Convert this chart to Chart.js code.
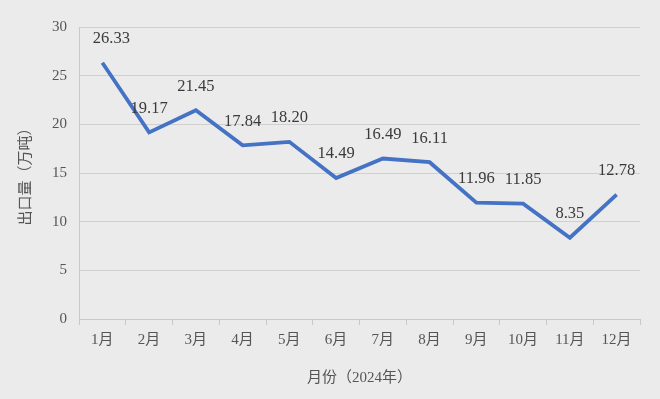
<!DOCTYPE html>
<html>
<head>
<meta charset="utf-8">
<script src="https://cdn.jsdelivr.net/npm/chart.js@4/dist/chart.umd.min.js"></script>
<style>
  html, body { margin: 0; padding: 0; background: #ebebeb; }
  #wrap { width: 660px; height: 399px; position: relative; }
</style>
</head>
<body>
<div id="wrap"><canvas id="exportChart"></canvas></div>
<script>
const months = ['1月', '2月', '3月', '4月', '5月', '6月', '7月', '8月', '9月', '10月', '11月', '12月'];
const exportVolume = [26.33, 19.17, 21.45, 17.84, 18.20, 14.49, 16.49, 16.11, 11.96, 11.85, 8.35, 12.78];
const yTicks = [0, 5, 10, 15, 20, 25, 30];

const serif = '"Liberation Serif", "Noto Sans CJK SC", serif';
const textColor = '#555555';

// draws the value above each point
const valueLabels = {
  id: 'valueLabels',
  afterDatasetsDraw(chart) {
    const ctx = chart.ctx;
    const meta = chart.getDatasetMeta(0);
    ctx.save();
    ctx.font = '16.5px ' + serif;
    ctx.fillStyle = '#3a3a3a';
    ctx.textAlign = 'center';
    ctx.textBaseline = 'middle';
    meta.data.forEach((pt, i) => {
      let dx = i === 0 ? 9 : 0; // first label sits a bit to the right
      ctx.fillText(exportVolume[i].toFixed(2), pt.x + dx, pt.y - 24);
    });
    ctx.restore();
  }
};

const ctx = document.getElementById('exportChart').getContext('2d');
new Chart(ctx, {
  type: 'line',
  data: {
    labels: months,
    datasets: [{
      data: exportVolume,
      borderColor: '#4472c4',
      borderWidth: 3.8,
      pointRadius: 0,
      tension: 0,
      fill: false
    }]
  },
  options: {
    responsive: true,
    maintainAspectRatio: false,
    animation: false,
    layout: { padding: { top: 27, right: 20, left: 13, bottom: 8 } },
    plugins: {
      legend: { display: false },
      tooltip: { enabled: false }
    },
    scales: {
      x: {
        offset: true,
        grid: {
          offset: true,
          drawOnChartArea: false,
          drawTicks: true,
          tickLength: 6,
          color: '#c8c8c8'
        },
        border: { color: '#c8c8c8' },
        ticks: { color: textColor, font: { family: serif, size: 15 }, padding: 6, maxRotation: 0 },
        title: {
          display: true,
          text: '月份（2024年）',
          color: textColor,
          font: { family: serif, size: 15 },
          padding: { top: 14 }
        }
      },
      y: {
        min: 0,
        max: 30,
        afterBuildTicks(axis) { axis.ticks = yTicks.map(v => ({ value: v })); },
        grid: { color: '#d0d0d0', drawTicks: false },
        border: { color: '#c8c8c8' },
        ticks: { color: textColor, font: { family: serif, size: 15 }, padding: 12 },
        title: {
          display: true,
          text: '出口量（万吨）',
          color: textColor,
          font: { family: serif, size: 15 },
          padding: { bottom: 5 }
        }
      }
    }
  },
  plugins: [valueLabels]
});
</script>
</body>
</html>
